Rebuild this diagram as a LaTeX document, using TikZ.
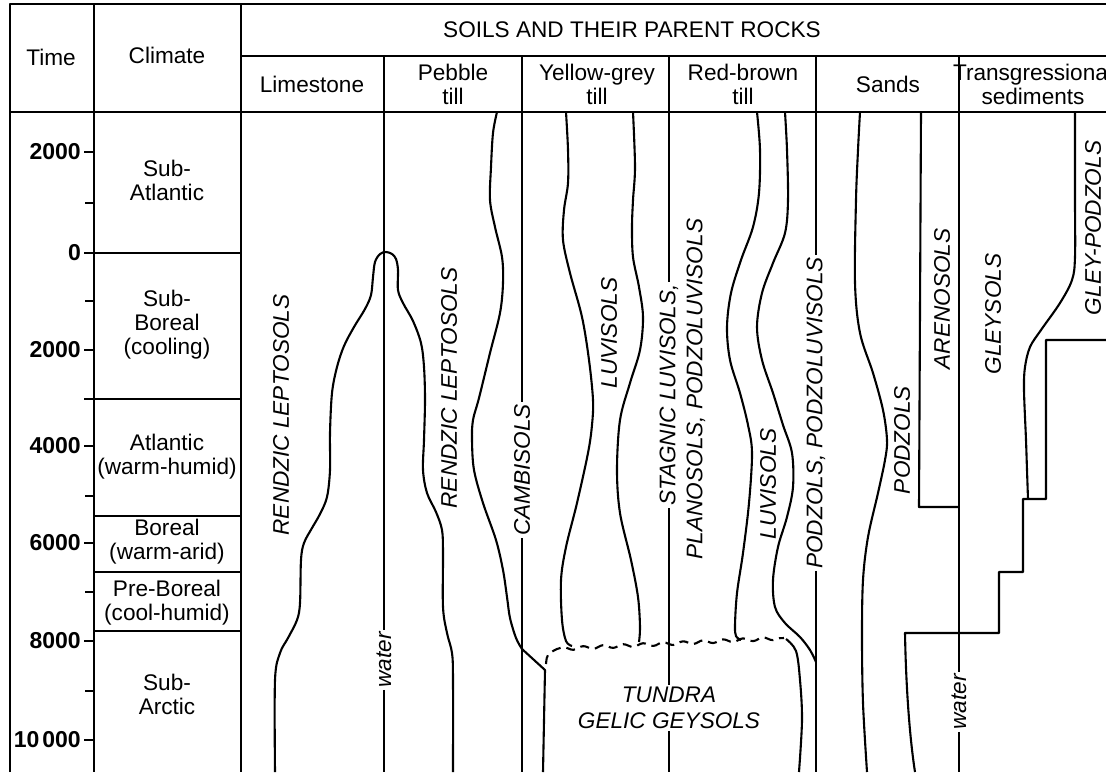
\documentclass[tikz,border=0pt]{standalone}
\usepackage{fontspec}
\setmainfont{Liberation Sans}
\usetikzlibrary{decorations.pathmorphing}
\begin{document}
\begin{tikzpicture}[x=1pt,y=-1pt,line join=round,
  frame/.style={line width=2.3pt},
  soil/.style={line width=2.1pt},
  hdr/.style={font=\fontsize{22.6}{24}\selectfont,align=center,inner sep=0pt},
  clim/.style={font=\fontsize{22.6}{24}\selectfont,align=center,inner sep=0pt},
  tlab/.style={font=\fontsize{23}{25}\selectfont\bfseries,anchor=east,inner sep=0pt},
  lab/.style={font=\fontsize{22.6}{27}\selectfont\itshape,rotate=90,inner sep=2pt},
  tund/.style={font=\fontsize{22.6}{26}\selectfont\itshape,align=center,inner sep=2pt},
  tdash/.style={soil,dash pattern=on 9pt off 6pt},
  sm/.style={smooth,tension=0.55}]
\clip (0,0) rectangle (1106,772);
\fill[white] (0,0) rectangle (1106,772);

% frame
\draw[frame] (10,772) -- (10,4) -- (1106,4);
\draw[frame] (94,4) -- (94,772);
\draw[frame] (241,4) -- (241,772);
\draw[frame] (241,56) -- (1106,56);
\draw[frame] (10,112) -- (1106,112);

% header texts
\node[hdr] (time) at (51,57) {Time};
\node[hdr] (climate) at (167,55) {Climate};
\node[hdr] (soils) at (632,30) {SOILS AND THEIR PARENT ROCKS};
\node[hdr] (lime) at (312,84) {Limestone};
\node[hdr] (pebble) at (453,84) {Pebble\\till};
\node[hdr] (yellow) at (597,84) {Yellow-grey\\till};
\node[hdr] (red) at (743,84) {Red-brown\\till};
\node[hdr] (sands) at (888,84) {Sands};
\node[hdr] (trans) at (1033,84) {Transgressional\\sediments};

% time axis
\foreach \yy/\lbl [count=\i] in {152/2000,253/0,350/2000,446/4000,543/6000,641/8000,740/{10\kern3pt000}} {
  \draw[frame] (84,\yy) -- (94,\yy);
  \node[tlab] (t\i) at (81,\yy) {\lbl};
}
\foreach \yy in {203,301,496,592,691} \draw[frame] (85,\yy) -- (94,\yy);

% climate
\draw[frame] (84,253) -- (241,253);
\draw[frame] (84,399) -- (241,399);
\draw[frame] (94,516) -- (241,516);
\draw[frame] (94,572) -- (241,572);
\draw[frame] (94,631) -- (241,631);
\node[clim] (c1) at (167,180) {Sub-\\Atlantic};
\node[clim] (c2) at (167,325) {Sub-\\Boreal\\(cooling)};
\node[clim] (c3) at (167,457) {Atlantic\\(warm-humid)};
\node[clim] (c4) at (167,542) {Boreal\\(warm-arid)};
\node[clim] (c5) at (167,603) {Pre-Boreal\\(cool-humid)};
\node[clim] (c6) at (167,694) {Sub-\\Arctic};

% soil labels
\node[lab] (rl1) at (281,415) {RENDZIC LEPTOSOLS};
\node[lab] (water1) at (384,660) {water};
\node[lab] (rl2) at (449,388) {RENDZIC LEPTOSOLS};
\node[lab] (camb) at (522,470) {CAMBISOLS};
\node[lab] (luv1) at (609,333) {LUVISOLS};
\node[lab] (stag) at (669,395) {STAGNIC LUVISOLS,};
\node[lab] (plan) at (696,389) {PLANOSOLS, PODZOLUVISOLS};
\node[lab] (luv2) at (768,484) {LUVISOLS};
\node[lab] (podz1) at (816,413) {PODZOLS, PODZOLUVISOLS};
\node[lab] (podz2) at (902,440) {PODZOLS};
\node[lab] (aren) at (942,299) {ARENOSOLS};
\node[lab] (gley) at (993,314) {GLEYSOLS};
\node[lab] (gleyp) at (1093,228) {GLEY-PODZOLS};
\node[lab] (water2) at (959,702) {water};
\node[tund] (tundra) at (669,708) {TUNDRA\\GELIC GEYSOLS};

% vertical boundary lines with labels
\coordinate (v1t) at (384,56);  \coordinate (v1b) at (384,772);
\coordinate (v2t) at (522,56);  \coordinate (v2b) at (522,772);
\coordinate (v3t) at (669,56);  \coordinate (v3b) at (669,772);
\coordinate (v4t) at (816,56);  \coordinate (v4b) at (816,772);
\coordinate (v5t) at (959,56);  \coordinate (v5b) at (959,772);
\draw[soil] (v1t) -- (water1.east);
\draw[soil] (water1.west) -- (v1b);
\draw[soil] (v2t) -- (camb.east);
\draw[soil] (camb.west) -- (v2b);
\draw[soil] (v3t) -- (stag.east);
\draw[soil] (stag.west) -- (stag.west |- tundra.north);
\draw[soil] (tundra.south) -- (v3b);
\draw[soil] (v4t) -- (podz1.east);
\draw[soil] (podz1.west) -- (v4b);
\draw[soil] (v5t) -- (water2.east);
\draw[soil] (water2.west) -- (v5b);

% limestone / pebble bulge
\draw[soil] plot[sm] coordinates {(275,772) (275,680) (280,653) (288,638) (297,620) (300,603) (301,560) (304,543) (312,528) (320,514) (327,497) (330,470) (330,433) (332,393) (337,367) (344,346) (354,327) (365,309) (371,295) (373,277) (375,262) (380,254) (386,252) (392,254) (396,259) (398,270) (398,290) (403,303) (413,321) (421,343) (424,367) (425,400) (424,440) (423,470) (427,493) (436,512) (442,530) (443,553) (443,607) (447,633) (452,653) (453,680) (453,772)};

% cambisol boundary and tundra left side
\draw[soil] plot[sm] coordinates {(497,112) (493,133) (491,167) (490,200) (495,227) (502,257) (503,283) (500,313) (490,353) (479,398) (473,420) (472,440) (474,470) (483,503) (496,540) (503,570) (507,597) (510,618) (516,638) (522,649)} -- (545,670) -- (543,772);

% yellow-grey till
\draw[soil] plot[sm] coordinates {(566,112) (568,150) (568,183) (564,210) (563,240) (570,273) (582,317) (589,360) (593,400) (592,425) (588,453) (577,503) (566,547) (561,580) (562,620) (566,641) (572,646)};
\draw[soil] plot[sm] coordinates {(633,112) (635,167) (633,200) (632,227) (633,257) (639,287) (643,317) (640,350) (630,383) (620,420) (617,470) (620,513) (631,560) (638,597) (640,627) (639,642)};

% red-brown till
\draw[soil] plot[sm] coordinates {(757,112) (760,150) (759,193) (753,227) (741,260) (731,293) (727,327) (730,360) (740,393) (748,425) (752,453) (749,503) (743,553) (737,593) (735,625) (736,636) (741,640)};
\draw[soil] plot[sm] coordinates {(785,112) (787,150) (788,200) (785,233) (773,263) (762,293) (757,327) (762,360) (773,393) (783,425) (792,453) (793,487) (787,517) (778,547) (773,580) (775,607) (785,623) (800,637) (810,650) (816,662)};

% tundra
\draw[tdash] (546,664) .. controls (547,654) .. (557,649) decorate[decoration={snake,amplitude=1.6pt,segment length=20pt}] {-- (784,638)};
\draw[soil] plot[sm] coordinates {(786,639) (796,651) (800,680) (802,720) (799,772)};

% sands
\draw[soil] plot[sm] coordinates {(860,112) (858,150) (856,200) (855,283) (860,333) (873,373) (883,410) (887,440) (885,460) (878,493) (868,537) (863,580) (862,637) (863,703) (867,772)};
\draw[soil] (921,112) -- (919,507) -- (959,507);

% transgressional sediments
\draw[soil] plot[sm] coordinates {(1075,112) (1075,200) (1075,257) (1072,280) (1060,303) (1041,330) (1030,347) (1025,367) (1024,390) (1026,440) (1027,470) (1028,499)};
\draw[soil] (1106,340) -- (1046,340) -- (1046,499) -- (1023,499) -- (1023,572) -- (999,572) -- (999,633) -- (905,633) .. controls (906,690) and (910,740) .. (915,772);
\end{tikzpicture}
\end{document}
